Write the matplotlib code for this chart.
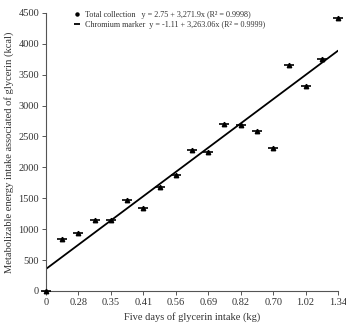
import matplotlib.pyplot as plt
from matplotlib.lines import Line2D

# Tick labels on the x axis (equally spaced, as printed in the source).
tick_labels = ["0", "0.28", "0.35", "0.41", "0.56", "0.69", "0.82", "0.70", "1.02", "1.34"]

# Observations sit on every tick and half-way between ticks (position index).
obs_pos = list(range(19))
energy_kcal = [0, 840, 940, 1150, 1140, 1470, 1340, 1690, 1870, 2280,
               2250, 2700, 2690, 2590, 2310, 3660, 3320, 3750, 4420]

# Regression line, read at both ends of the axis.
line_pos = [0, 18]
line_kcal = [355, 3890]

legend_labels = [
    "Total collection   y = 2.75 + 3,271.9x (R\u00b2 = 0.9998)",
    "Chromium marker  y = -1.11 + 3,263.06x (R\u00b2 = 0.9999)",
]

plt.rcParams["font.family"] = ["Liberation Serif", "DejaVu Serif"]

fig = plt.figure(figsize=(3.46, 3.25), dpi=100)
ax = fig.add_axes([0.133, 0.105, 0.844, 0.855])

# Fitted line.
ax.plot(line_pos, line_kcal, color="black", lw=1.3, solid_capstyle="round")

# Data points: dot (total collection) and dash (chromium marker) overlap.
ax.plot(obs_pos, energy_kcal, ls="none", marker="^", ms=3.2,
        color="black", clip_on=False, zorder=3)
ax.plot(obs_pos, energy_kcal, ls="none", marker="_", ms=6.5, mew=1.2,
        color="black", clip_on=False, zorder=3)

# Axes styling.
ax.set_xlim(0, 18)
ax.set_ylim(0, 4500)
ax.set_xticks(range(0, 19, 2))
ax.set_xticklabels(tick_labels)
ax.set_yticks(range(0, 4501, 500))
for side in ("top", "right"):
    ax.spines[side].set_visible(False)
for side in ("left", "bottom"):
    ax.spines[side].set_color("#555555")
    ax.spines[side].set_linewidth(0.8)
ax.tick_params(axis="both", labelsize=7.5, length=3, width=0.7,
               color="#555555", labelcolor="#333333", pad=2)

ax.set_xlabel("Five days of glycerin intake (kg)", fontsize=7.5,
              color="#333333", labelpad=4)
ax.set_ylabel("Metabolizable energy intake associated of glycerin (kcal)",
              fontsize=7.6, color="#333333", labelpad=3)

# Legend with the regression equations.
handles = [
    Line2D([], [], ls="none", marker="o", ms=2.2, color="black"),
    Line2D([], [], ls="none", marker="_", ms=4.5, mew=1.3, color="black"),
]
ax.legend(handles, legend_labels, loc="upper left",
          bbox_to_anchor=(0.07, 1.035), frameon=False, fontsize=5.9,
          handlelength=0.8, handletextpad=0.6, labelspacing=0.3,
          labelcolor="#333333")

plt.savefig("out.png", dpi=100)
plt.close()
